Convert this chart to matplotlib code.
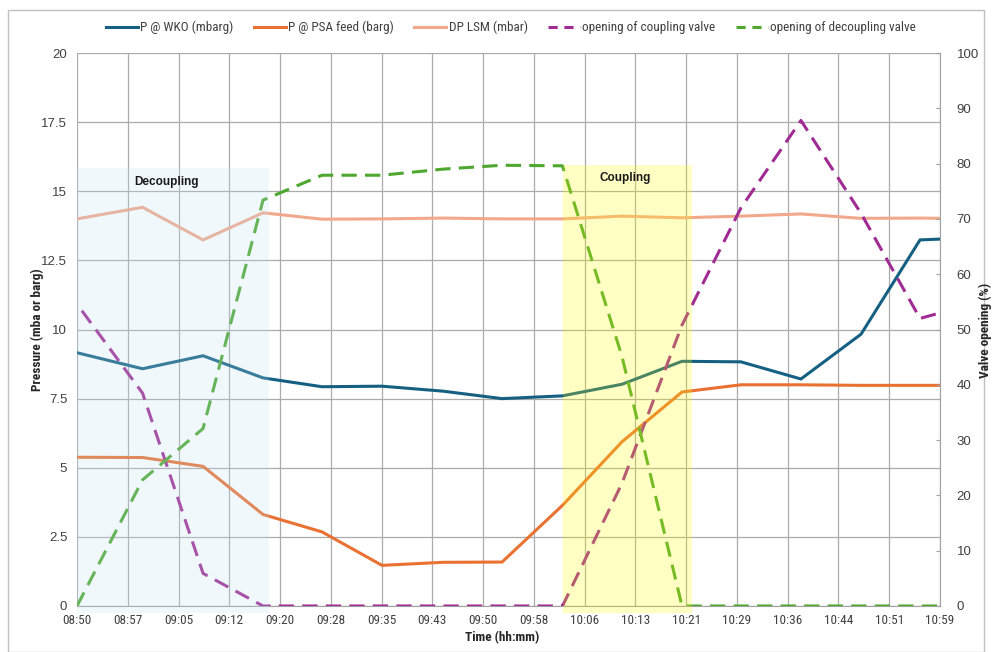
import matplotlib
matplotlib.use('Agg')
import matplotlib.pyplot as plt
import numpy as np
from matplotlib import font_manager
from matplotlib.patches import Rectangle
from matplotlib.lines import Line2D


def pick(names):
    for n in names:
        try:
            font_manager.findfont(font_manager.FontProperties(family=n), fallback_to_default=False)
            return n
        except Exception:
            pass
    return 'DejaVu Sans'


NARROW = pick(['Liberation Sans Narrow', 'Roboto Condensed', 'Liberation Sans'])
REGULAR = pick(['Liberation Sans', 'Roboto'])
plt.rcParams['font.family'] = [NARROW, 'DejaVu Sans']

# ---------------- data ----------------
times = ["08:50:00", "08:59:50", "09:08:55", "09:17:55", "09:26:46", "09:35:46",
         "09:44:55", "09:53:47", "10:02:51", "10:11:47", "10:20:47", "10:29:38",
         "10:38:38", "10:47:39", "10:56:30", "10:59:30"]
p_wko = [9.16, 8.58, 9.05, 8.25, 7.93, 7.95, 7.77, 7.50, 7.60, 8.02, 8.85, 8.83,
         8.21, 9.83, 13.24, 13.27]
p_psa = [5.38, 5.37, 5.05, 3.31, 2.68, 1.47, 1.58, 1.59, 3.64, 5.94, 7.74, 8.00,
         8.00, 7.98, 7.98, 7.98]
dp_lsm = [14.00, 14.42, 13.24, 14.22, 13.99, 14.00, 14.03, 14.00, 14.00, 14.10,
          14.04, 14.10, 14.18, 14.02, 14.03, 14.02]
coupling_valve = [54.6, 38.5, 5.9, 0, 0, 0, 0, 0, 0, 22.2, 50.8, 72.0, 87.8, 71.0,
                  52.0, 53.0]
decoupling_valve = [0, 22.8, 32.1, 73.4, 77.9, 77.9, 79.0, 79.7, 79.6, 45.1, 0, 0,
                    0, 0, 0, 0]

x_start = "08:50:00"
x_end = "10:59:30"
tick_labels = ["08:50", "08:57", "09:05", "09:12", "09:20", "09:28", "09:35", "09:43",
               "09:50", "09:58", "10:06", "10:13", "10:21", "10:29", "10:36", "10:44",
               "10:51", "10:59"]
series_names = ["P @ WKO (mbarg)", "P @ PSA feed (barg)", "DP LSM (mbar)",
                "opening of coupling valve", "opening of decoupling valve"]

decoupling_span = ("08:50:00", "09:18:52")
coupling_span = ("10:02:53", "10:22:14")


def to_min(s):
    h, m, sec = map(int, s.split(':'))
    return h * 60 + m + sec / 60.0


t0 = to_min(x_start)
x = np.array([to_min(t) - t0 for t in times])
span = to_min(x_end) - t0

# ---------------- figure ----------------
W, H = 992, 652
fig = plt.figure(figsize=(W / 100, H / 100), dpi=100)
fig.patch.set_facecolor('white')
L, R, T, B = 77, 940, 53, 606
ax = fig.add_axes([L / W, 1 - B / H, (R - L) / W, (B - T) / H])
ax2 = ax.twinx()

c_wko = '#156082'
c_psa = '#E97132'
c_dp = '#F2A88C'
c_cv = '#A02B93'
c_dv = '#4EA72E'
lw = 2.2
dash = (5.0, 2.7)

ax.plot(x, p_wko, color=c_wko, lw=lw, solid_joinstyle='miter', zorder=3)
ax.plot(x, p_psa, color=c_psa, lw=lw, solid_joinstyle='miter', zorder=3)
ax.plot(x, dp_lsm, color=c_dp, lw=lw, solid_joinstyle='miter', zorder=3)
ax2.plot(x, coupling_valve, color=c_cv, lw=lw, linestyle=(5.0, dash), zorder=3)
ax2.plot(x, decoupling_valve, color=c_dv, lw=lw, linestyle=(0, dash), zorder=3)

ax.set_xlim(0, span)
ax.set_ylim(0, 20)
ax2.set_ylim(0, 100)

grid_c = '#ABABAB'
ax.set_xticks(np.linspace(0, span, len(tick_labels)))
ax.set_xticklabels(tick_labels)
ax.set_yticks(np.arange(0, 20.01, 2.5))
ax.set_yticklabels(['0', '2.5', '5', '7.5', '10', '12.5', '15', '17.5', '20'])
ax.grid(True, color=grid_c, lw=0.9)
ax.set_axisbelow(True)
ax.tick_params(axis='both', length=0, labelsize=9.5, labelcolor='#404040')
ax.tick_params(axis='x', pad=6)
ax.tick_params(axis='y', pad=7)
for lab in ax.get_yticklabels():
    lab.set_family([REGULAR, 'DejaVu Sans'])
for s in ['top', 'left']:
    ax.spines[s].set_visible(False)
ax.spines['bottom'].set_color('#A0A0A0')
ax.spines['right'].set_visible(False)

ax2.set_yticks(np.arange(0, 101, 10))
ax2.tick_params(axis='y', direction='in', length=3, color='#A0A0A0', labelsize=9.5,
                labelcolor='#404040', pad=12)
for lab in ax2.get_yticklabels():
    lab.set_family([REGULAR, 'DejaVu Sans'])
for s in ['top', 'left', 'bottom']:
    ax2.spines[s].set_visible(False)
ax2.spines['right'].set_color('#A0A0A0')

# shaded phases (drawn over lines, semi-transparent)
d0, d1 = to_min(decoupling_span[0]) - t0, to_min(decoupling_span[1]) - t0
c0, c1 = to_min(coupling_span[0]) - t0, to_min(coupling_span[1]) - t0
ax2.add_patch(Rectangle((d0, -0.25), d1 - d0, 15.84 + 0.25, transform=ax.transData,
                        facecolor='#BFE3F5', alpha=0.22, lw=0, zorder=5, clip_on=False))
ax2.add_patch(Rectangle((c0, -0.25), c1 - c0, 15.95 + 0.25, transform=ax.transData,
                        facecolor='#FFFF00', alpha=0.23, lw=0, zorder=5, clip_on=False))
ax2.text((d0 + d1) / 2 - 1.0, 15.33, 'Decoupling', transform=ax.transData, ha='center',
         va='center', fontsize=8.5, fontweight='bold', color='#1a1a1a',
         family=[REGULAR, 'DejaVu Sans'], zorder=6)
ax2.text((c0 + c1) / 2 - 0.3, 15.48, 'Coupling', transform=ax.transData, ha='center',
         va='center', fontsize=8.5, fontweight='bold', color='#1a1a1a',
         family=[REGULAR, 'DejaVu Sans'], zorder=6)
ax2.set_ylim(0, 100)
ax.set_xlim(0, span)

# axis titles
fig.text(37 / W, 1 - 330 / H, 'Pressure (mba or barg)', rotation=90, ha='center',
         va='center', fontsize=9.5, fontweight='bold', color='#262626')
fig.text(985 / W, 1 - 330 / H, 'Valve opening (%)', rotation=90, ha='center',
         va='center', fontsize=9.5, fontweight='bold', color='#262626')
fig.text(502 / W, 1 - 638 / H, 'Time (hh:mm)', ha='center', va='center', fontsize=9.5,
         fontweight='bold', color='#262626')

# legend
handles = [
    Line2D([], [], color=c_wko, lw=lw),
    Line2D([], [], color=c_psa, lw=lw),
    Line2D([], [], color=c_dp, lw=lw),
    Line2D([], [], color=c_cv, lw=lw, linestyle=(0, (3.0, 2.2))),
    Line2D([], [], color=c_dv, lw=lw, linestyle=(0, (3.0, 2.2))),
]
fig.legend(handles, series_names, loc='center', bbox_to_anchor=(511 / W, 1 - 27.5 / H),
           ncol=5, frameon=False, fontsize=9.5, handlelength=2.4, handletextpad=0.2,
           columnspacing=1.55, labelcolor='#404040')

# outer chart border
fig.add_artist(Rectangle((8 / W, 0.5 / H), (W - 8.5) / W - 8 / W, (H - 10) / H - 0.5 / H,
                         transform=fig.transFigure, fill=False, edgecolor='#BFBFBF', lw=1))

fig.savefig('out.png', dpi=100)
